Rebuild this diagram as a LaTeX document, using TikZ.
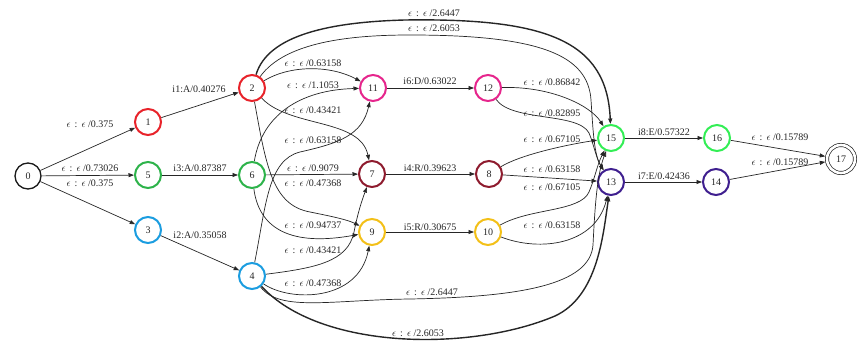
\documentclass[tikz,border=0pt]{standalone}
\usepackage{fontspec}
\setmainfont{Liberation Serif}
\usetikzlibrary{arrows.meta}
\definecolor{cred}{HTML}{E8232A}
\definecolor{cgreen}{HTML}{2DB34A}
\definecolor{cblue}{HTML}{1B9DE0}
\definecolor{cmag}{HTML}{E6258C}
\definecolor{cdred}{HTML}{8E1B2E}
\definecolor{cgold}{HTML}{F3C018}
\definecolor{cbgreen}{HTML}{33EE55}
\definecolor{cpur}{HTML}{3F1F8F}
\newcommand{\epsee}[1]{$\epsilon$\hspace{4pt}:\hspace{4pt}$\epsilon$\hspace{2.5pt}/#1}
\begin{document}
\begin{tikzpicture}[x=1pt,y=-1pt,
  st/.style={circle, minimum size=26pt, inner sep=0pt, line width=2pt, fill=white, font=\fontsize{10}{12}\selectfont, text=black!85},
  ed/.style={draw=black!85, line width=0.7pt, -{Triangle[length=5.5pt,width=4pt]}},
  thk/.style={line width=1.4pt},
  lbl/.style={font=\fontsize{10}{12}\selectfont, inner sep=0pt, text=black!85}]
\fill[white] (0,0) rectangle (861,344);
\useasboundingbox (0,0) rectangle (861,344);
% nodes
\node[st,draw=black!90,line width=1.3pt] (n0) at (28,176) {0};
\node[st,draw=cred] (n1) at (148,122) {1};
\node[st,draw=cred] (n2) at (252,88) {2};
\node[st,draw=cgreen] (n5) at (148,175) {5};
\node[st,draw=cgreen] (n6) at (252,175) {6};
\node[st,draw=cblue] (n3) at (148,230) {3};
\node[st,draw=cblue] (n4) at (252,276) {4};
\node[st,draw=cmag] (n11) at (373,88) {11};
\node[st,draw=cmag] (n12) at (488,88) {12};
\node[st,draw=cdred] (n7) at (372,174) {7};
\node[st,draw=cdred] (n8) at (489,174) {8};
\node[st,draw=cgold] (n9) at (372,232) {9};
\node[st,draw=cgold] (n10) at (488,232) {10};
\node[st,draw=cbgreen] (n15) at (611,138) {15};
\node[st,draw=cbgreen] (n16) at (717,138) {16};
\node[st,draw=cpur] (n13) at (611,182) {13};
\node[st,draw=cpur] (n14) at (716,182) {14};
\node[st,draw=black!85,line width=0.7pt,double,double distance=2.6pt,minimum size=28pt,outer sep=2pt] (n17) at (841,159) {17};
% edges
\draw[ed] (n0) -- (n1);
\draw[ed] (n0) -- (n5);
\draw[ed] (n0) -- (n3);
\draw[ed] (n1) -- (n2);
\draw[ed] (n5) -- (n6);
\draw[ed] (n3) -- (n4);
\draw[ed,thk] (n2) .. controls (268,35) and (330,22) .. (405,20) .. controls (545,18) and (607,40) .. (n15);
\draw[ed] (n2) .. controls (285,42) and (350,35) .. (410,35) .. controls (540,35) and (588,55) .. (591,100) .. controls (593,130) and (594,155) .. (n13);
\draw[ed] (n2) .. controls (290,65) and (330,65) .. (n11);
\draw[ed] (n6) .. controls (262,115) and (300,90) .. (n11);
\draw[ed] (n2) .. controls (290,128) and (360,118) .. (n7);
\draw[ed] (n4) .. controls (266,205) and (268,160) .. (300,152) .. controls (340,143) and (362,135) .. (n11);
\draw[ed] (n6) -- (n7);
\draw[ed] (n2) .. controls (266,165) and (272,205) .. (310,212) .. controls (335,217) and (348,220) .. (n9);
\draw[ed] (n6) .. controls (260,235) and (300,245) .. (n9);
\draw[ed] (n4) .. controls (315,268) and (348,262) .. (354,232) .. controls (358,212) and (362,200) .. (n7);
\draw[ed] (n4) .. controls (290,302) and (358,302) .. (n9);
\draw[ed] (n4) .. controls (280,312) and (330,300) .. (410,299) .. controls (520,297) and (590,285) .. (593,245) .. controls (595,205) and (597,175) .. (n15);
\draw[ed,thk] (n4) .. controls (320,350) and (470,352) .. (555,316) .. controls (598,296) and (603,235) .. (n13);
\draw[ed] (n11) -- (n12);
\draw[ed] (n7) -- (n8);
\draw[ed] (n9) -- (n10);
\draw[ed] (n12) .. controls (550,86) and (590,105) .. (n15);
\draw[ed] (n12) .. controls (512,122) and (578,112) .. (589,133) .. controls (594,145) and (596,158) .. (n13);
\draw[ed] (n8) .. controls (520,155) and (565,145) .. (n15);
\draw[ed] (n8) -- (n13);
\draw[ed] (n10) .. controls (530,208) and (580,212) .. (589,192) .. controls (595,178) and (597,165) .. (n15);
\draw[ed] (n10) .. controls (540,252) and (595,245) .. (n13);
\draw[ed] (n15) -- (n16);
\draw[ed] (n13) -- (n14);
\draw[ed] (n16) -- (n17);
\draw[ed] (n14) -- (n17);
% labels
\node[lbl] (l01) at (90,124) {\epsee{0.375}};
\node[lbl] (l05) at (90,168) {\epsee{0.73026}};
\node[lbl] (l03) at (90,183) {\epsee{0.375}};
\node[lbl] (l12) at (199,89) {i1:A/0.40276};
\node[lbl] (l56) at (200,168) {i3:A/0.87387};
\node[lbl] (l34) at (200,235) {i2:A/0.35058};
\node[lbl] (l215) at (434,13) {\epsee{2.6447}};
\node[lbl] (l213) at (434,28) {\epsee{2.6053}};
\node[lbl] (l211) at (313,63) {\epsee{0.63158}};
\node[lbl] (l611) at (313,85) {\epsee{1.1053}};
\node[lbl] (l27) at (313,110) {\epsee{0.43421}};
\node[lbl] (l411) at (313,140) {\epsee{0.63158}};
\node[lbl] (l67) at (313,168) {\epsee{0.9079}};
\node[lbl] (l29) at (313,183) {\epsee{0.47368}};
\node[lbl] (l69) at (313,225) {\epsee{0.94737}};
\node[lbl] (l47) at (313,250) {\epsee{0.43421}};
\node[lbl] (l49) at (313,283) {\epsee{0.47368}};
\node[lbl] (l415) at (432,292) {\epsee{2.6447}};
\node[lbl] (l413) at (418,333) {\epsee{2.6053}};
\node[lbl] (l1112) at (430,81) {i6:D/0.63022};
\node[lbl] (l78) at (430,168) {i4:R/0.39623};
\node[lbl] (l910) at (430,227) {i5:R/0.30675};
\node[lbl] (l1215) at (552,82) {\epsee{0.86842}};
\node[lbl] (l1213) at (552,113) {\epsee{0.82895}};
\node[lbl] (l815) at (552,139) {\epsee{0.67105}};
\node[lbl] (l813) at (552,169) {\epsee{0.63158}};
\node[lbl] (l1015) at (552,187) {\epsee{0.67105}};
\node[lbl] (l1013) at (552,225) {\epsee{0.63158}};
\node[lbl] (l1516) at (664,132) {i8:E/0.57322};
\node[lbl] (l1314) at (664,176) {i7:E/0.42436};
\node[lbl] (l1617) at (780,137) {\epsee{0.15789}};
\node[lbl] (l1417) at (780,162) {\epsee{0.15789}};
\end{tikzpicture}
\end{document}
